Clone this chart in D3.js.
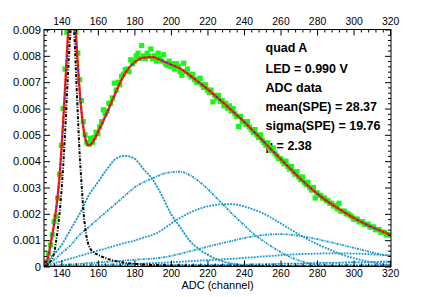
<!DOCTYPE html>
<html><head><meta charset="utf-8">
<script src="https://cdn.jsdelivr.net/npm/d3@7"></script>
<style>
html,body{margin:0;padding:0;background:#fff;}
svg{display:block;font-family:"Liberation Sans",Arial,Helvetica,sans-serif;}
</style></head>
<body><svg id="c" width="436" height="297"></svg>
<script>
// ---- data ----
const dataChannels = [131,132,133,134,135,136,137,138,139,140,141,142,143,144,145,146,147,148,149,150,
151,152,153,154,155,156,157,158,159,160,161,162,163,164,165,166,167,168,169,170,
171,172,173,174,175,176,177,178,179,180,181,182,183,184,185,186,187,188,189,190,
191,192,193,194,195,196,197,198,199,200,201,202,203,204,205,206,207,208,209,210,
211,212,213,214,215,216,217,218,219,220,221,222,223,224,225,226,227,228,229,230,
231,232,233,234,235,236,237,238,239,240,241,242,243,244,245,246,247,248,249,250,
251,252,253,254,255,256,257,258,259,260,261,262,263,264,265,266,267,268,269,270,
271,272,273,274,275,276,277,278,279,280,281,282,283,284,285,286,287,288,289,290,
291,292,293,294,295,296,297,298,299,300,301,302,303,304,305,306,307,308,309,310,
311,312,313,314,315,316,317,318,319,320];
const dataValues = [0.00008,0.00018,0.0005,0.00082,0.0012,0.0017,0.0019,0.0026,0.0035,0.0046,
0.0060,0.0075,0.0089,0.0098,0.0104,0.0101,0.0096,0.0089,0.0081,0.0071,
0.0063,0.0055,0.0050,0.0047,0.00465,0.00487,0.00472,0.0049,0.0051,0.00505,
0.0053,0.0055,0.00595,0.0058,0.0059,0.0062,0.0062,0.0064,0.00696,0.0067,
0.0070,0.0069,0.00722,0.0073,0.00747,0.0075,0.0074,0.00785,0.0077,0.0078,
0.0080,0.0081,0.0079,0.00839,0.0080,0.0079,0.0081,0.0080,0.00826,0.0079,
0.0080,0.0078,0.0081,0.0079,0.0078,0.00804,0.0077,0.00764,0.0078,0.0076,
0.0077,0.0075,0.0077,0.0076,0.0074,0.00726,0.00772,0.0074,0.0075,0.0073,
0.0072,0.0073,0.0071,0.0070,0.0071,0.00715,0.0069,0.0068,0.0069,0.0067,
0.0066,0.0067,0.00625,0.0065,0.0064,0.0065,0.00627,0.0063,0.0061,0.0062,
0.00601,0.0061,0.0059,0.0060,0.0058,0.0057,0.00532,0.0057,0.0055,0.0055,
0.0054,0.0055,0.0053,0.0052,0.0051,0.0052,0.0050,0.0049,0.0050,0.0048,
0.0047,0.0046,0.0047,0.0045,0.0044,0.0045,0.0043,0.0042,0.0041,0.0041,
0.0040,0.0039,0.0040,0.0038,0.0037,0.0038,0.0036,0.0035,0.0036,0.0034,
0.0033,0.0034,0.0032,0.0031,0.0032,0.0030,0.0029,0.0030,0.0026,0.0028,
0.0027,0.0027,0.0026,0.0026,0.0025,0.0025,0.0024,0.0024,0.0023,0.0023,
0.0022,0.0024,0.0021,0.0021,0.0021,0.0020,0.0020,0.00195,0.0019,0.0018,
0.0018,0.0018,0.0017,0.0017,0.0017,0.0016,0.0016,0.0016,0.0015,0.0015,
0.0015,0.0014,0.0014,0.0014,0.0013,0.0013,0.0013,0.0012,0.0012,0.0012];

// total fit
const fitX = [130.5,131,132,133,134,135,136,137,138,139,140,141,142,143,144,145,146,147,148,149,150,151,152,153,154,155,156,158,160,
165,170,175,180,185,190,195,200,205,210,215,220,225,230,235,240,245,250,255,260,265,270,275,280,285,290,295,300,305,310,315,320.5];
const fitY = [0.00001,0.00005,0.0002,0.00045,0.0008,0.0012,0.0016,0.0021,0.0027,0.0034,0.0044,0.0055,0.0067,0.0080,0.0092,0.0100,0.0102,0.0097,0.0088,0.0077,0.0067,0.0059,0.0053,0.0049,0.00468,0.0046,0.00462,0.00482,0.0051,
0.00584,0.00665,0.00735,0.00775,0.00793,0.00795,0.00782,0.00767,0.00752,0.00728,0.00701,0.00674,0.00644,0.00614,0.00582,0.0055,0.00515,0.0048,0.00444,0.00409,0.00374,0.00339,0.00307,0.00277,0.00251,0.00228,0.00206,0.00185,0.00167,0.0015,0.00135,0.00119];

// pedestal
const pedX = [130.5,132,134,135,136,137,138,139,140,141,142,143,144,145,146,147,148,149,150,151,152,153,154,155,156,157,158,160,162,165,170,175,180,185,190,200,210,220,240,260,280,320.5];
const pedY = [0,0.00005,0.0002,0.0003,0.0005,0.0009,0.0014,0.0020,0.0028,0.0038,0.0050,0.0064,0.0078,0.0089,0.0094,0.0089,0.0074,0.0058,0.0043,0.0032,0.0022,0.0015,0.00105,0.0008,0.00066,0.00058,0.00052,0.00045,0.00038,0.0003,0.0002,0.00014,0.0001,0.00008,0.00006,0.00004,0.00003,0.00002,0.00001,0.000005,0.000002,0];

// single / multi photoelectron components
const speX = [130.5,135,140,145,150,155,160,165,170,175,180,185,190,195,200,205,210,215,220,225,230,235,240,245,250,255,260,265,270,275,280,285,290,295,300,305,310,315,320.5];
const spe1 = [0.00012,0.0004,0.0008,0.0014,0.0020,0.0027,0.0032,0.0037,0.0041,0.0042,0.0041,0.0037,0.0033,0.0027,0.0020,0.0015,0.0010,0.00068,0.00045,0.00028,0.00016,0.00009,0.00005,0.00003,0.00002,0.00001,0.00001,0,0,0,0,0,0,0,0,0,0,0,0];
const spe2 = [0.00005,0.0002,0.0005,0.0008,0.0012,0.0015,0.0018,0.0021,0.0024,0.0027,0.0030,0.0032,0.00335,0.0035,0.00358,0.0036,0.00348,0.00325,0.00295,0.0026,0.00225,0.0019,0.00158,0.00125,0.001,0.00076,0.00055,0.00037,0.00023,0.00013,0.00007,0.00004,0.00002,0.00001,0.00001,0,0,0,0];
const spe3 = [0.00003,0.0001,0.0002,0.0003,0.0004,0.0005,0.0006,0.0007,0.0008,0.0009,0.00098,0.0011,0.0012,0.00138,0.00163,0.00185,0.00203,0.00218,0.00228,0.00234,0.00237,0.00236,0.00228,0.00217,0.00203,0.00185,0.00164,0.00143,0.00122,0.00103,0.00085,0.0007,0.00055,0.00042,0.00032,0.00023,0.00016,0.0001,0.00007];
const spe4 = [0.00002,0.00003,0.00005,0.00008,0.0001,0.00013,0.00015,0.00018,0.0002,0.00023,0.00025,0.00028,0.0003,0.00034,0.0004,0.00048,0.00057,0.00066,0.00075,0.00084,0.00092,0.001,0.00108,0.00114,0.00119,0.00122,0.00123,0.00121,0.00117,0.00111,0.00104,0.00096,0.00088,0.0008,0.00071,0.00062,0.00054,0.00046,0.00039];
const spe5 = [0.00001,0.00002,0.00003,0.00003,0.00004,0.00005,0.00006,0.00007,0.00008,0.00009,0.0001,0.00011,0.00013,0.00014,0.00016,0.00018,0.0002,0.00022,0.00024,0.00026,0.00028,0.0003,0.00033,0.00035,0.00038,0.0004,0.00043,0.00045,0.00047,0.00048,0.00049,0.0005,0.0005,0.0005,0.00049,0.00048,0.00046,0.00044,0.00042];
const spe6 = [0,0,0.00001,0.00001,0.00001,0.00001,0.00002,0.00002,0.00002,0.00003,0.00003,0.00003,0.00004,0.00004,0.00004,0.00005,0.00005,0.00005,0.00006,0.00006,0.00006,0.00007,0.00007,0.00008,0.00008,0.00009,0.0001,0.00011,0.00011,0.00012,0.00013,0.00014,0.00014,0.00015,0.00016,0.00016,0.00017,0.00018,0.00018];
const spe7 = [0,0,0,0,0,0,0,0,0,0,0,0.00001,0.00001,0.00001,0.00001,0.00001,0.00001,0.00001,0.00001,0.00002,0.00002,0.00002,0.00002,0.00002,0.00002,0.00003,0.00003,0.00003,0.00003,0.00003,0.00004,0.00004,0.00004,0.00005,0.00005,0.00005,0.00005,0.00006,0.00006];

const xTicks = [140,160,180,200,220,240,260,280,300,320];
const yTicks = [0,0.001,0.002,0.003,0.004,0.005,0.006,0.007,0.008,0.009];
const yTickLabels = ["0","0.001","0.002","0.003","0.004","0.005","0.006","0.007","0.008","0.009"];
const infoLines = ["quad A","LED = 0.990 V","ADC data","mean(SPE) = 28.37","sigma(SPE) = 19.76","\u03bc = 2.38"];
const xTitle = "ADC (channel)";

// ---- drawing ----
const svg = d3.select("#c");
const L=44, R=391, T=29.5, B=266.5;
const x = d3.scaleLinear().domain([130.5,320.5]).range([L,R]);
const y = d3.scaleLinear().domain([0,0.009]).range([B,T]);

svg.append("defs").append("clipPath").attr("id","clip")
  .append("rect").attr("x",L).attr("y",T).attr("width",R-L).attr("height",B-T);

// info text (drawn under the data, as in the reference)
const infoBase = [51.7,73.3,92.3,111,130,149.5];
svg.append("g").selectAll("text").data(infoLines).join("text")
  .attr("x",265.5).attr("y",(d,i)=>infoBase[i])
  .attr("font-size",12.5).attr("font-weight","bold").attr("fill","#000")
  .text(d=>d);

const plot = svg.append("g").attr("clip-path","url(#clip)");

// data markers
plot.append("g").selectAll("rect").data(dataChannels).join("rect")
  .attr("x",(d)=>x(d)-2.6).attr("y",(d,i)=>y(dataValues[i])-2.6)
  .attr("width",5.2).attr("height",5.2).attr("fill","#18f818");

const line = (xs,ys)=>d3.line().x((d,i)=>x(xs[i])).y(d=>y(d)).curve(d3.curveMonotoneX)(ys);

// components
const speStyles = ["2.2,1","2.2,1,1,1","1.8,1.2","2.2,1,1,1","1.8,1.2","2.2,1","1.8,1.2"];
[spe1,spe2,spe3,spe4,spe5,spe6,spe7].forEach((s,k)=>{
  plot.append("path").attr("d",line(speX,s)).attr("fill","none")
    .attr("stroke","#1499cf").attr("stroke-width",1.8).attr("stroke-dasharray",speStyles[k]);
});

// total fit: red with blue dotted overlay
plot.append("path").attr("d",line(fitX,fitY)).attr("fill","none")
  .attr("stroke","#ff2200").attr("stroke-width",2.4);
plot.append("path").attr("d",line(fitX,fitY)).attr("fill","none")
  .attr("stroke","#1a1aff").attr("stroke-width",1.4).attr("stroke-dasharray","1.2,3.5");

// pedestal
plot.append("path").attr("d",line(pedX,pedY)).attr("fill","none")
  .attr("stroke","#000").attr("stroke-width",2).attr("stroke-dasharray","3,1.5,1,1.5");

// axes
const minorX = d3.range(132,321,4).filter(v=>!xTicks.includes(v));
const minorY = d3.range(0,0.00901,0.0002).filter(v=>Math.abs(Math.round(v*1000)-v*1000)>1e-6);
const fmtY = (d)=>yTickLabels[yTicks.findIndex(t=>Math.abs(t-d)<1e-9)];

function styleAxis(g, fs){
  g.select(".domain").remove();
  g.selectAll("line").attr("stroke","#000").attr("stroke-width",1);
  g.selectAll("text").attr("font-size",fs).attr("fill","#000")
   .attr("font-family","Liberation Sans, Arial, Helvetica, sans-serif");
}
svg.append("g").attr("transform",`translate(0,${B})`)
  .call(d3.axisBottom(x).tickValues(xTicks).tickSize(-6).tickPadding(3).tickFormat(d3.format("d")))
  .call(g=>styleAxis(g,10.4));
svg.append("g").attr("transform",`translate(0,${B})`)
  .call(d3.axisBottom(x).tickValues(minorX).tickSize(-3).tickFormat(""))
  .call(g=>styleAxis(g,10));
svg.append("g").attr("transform",`translate(0,${T})`)
  .call(d3.axisTop(x).tickValues(xTicks).tickSize(-6).tickPadding(4.5).tickFormat(d3.format("d")))
  .call(g=>styleAxis(g,10.4));
svg.append("g").attr("transform",`translate(0,${T})`)
  .call(d3.axisTop(x).tickValues(minorX).tickSize(-3).tickFormat(""))
  .call(g=>styleAxis(g,10));
svg.append("g").attr("transform",`translate(${L},0)`)
  .call(d3.axisLeft(y).tickValues(yTicks).tickSize(-6).tickPadding(3).tickFormat(fmtY))
  .call(g=>styleAxis(g,11.2));
svg.append("g").attr("transform",`translate(${L},0)`)
  .call(d3.axisLeft(y).tickValues(minorY).tickSize(-3).tickFormat(""))
  .call(g=>styleAxis(g,10));
svg.append("g").attr("transform",`translate(${R},0)`)
  .call(d3.axisRight(y).tickValues(yTicks).tickSize(-6).tickFormat(""))
  .call(g=>styleAxis(g,10));
svg.append("g").attr("transform",`translate(${R},0)`)
  .call(d3.axisRight(y).tickValues(minorY).tickSize(-3).tickFormat(""))
  .call(g=>styleAxis(g,10));

// frame
svg.append("rect").attr("x",L).attr("y",T).attr("width",R-L).attr("height",B-T)
  .attr("fill","none").attr("stroke","#000").attr("stroke-width",1);

// axis title
svg.append("text").attr("x",(L+R)/2).attr("y",289).attr("text-anchor","middle")
  .attr("font-size",11).attr("fill","#000").text(xTitle);
</script>
</body></html>
